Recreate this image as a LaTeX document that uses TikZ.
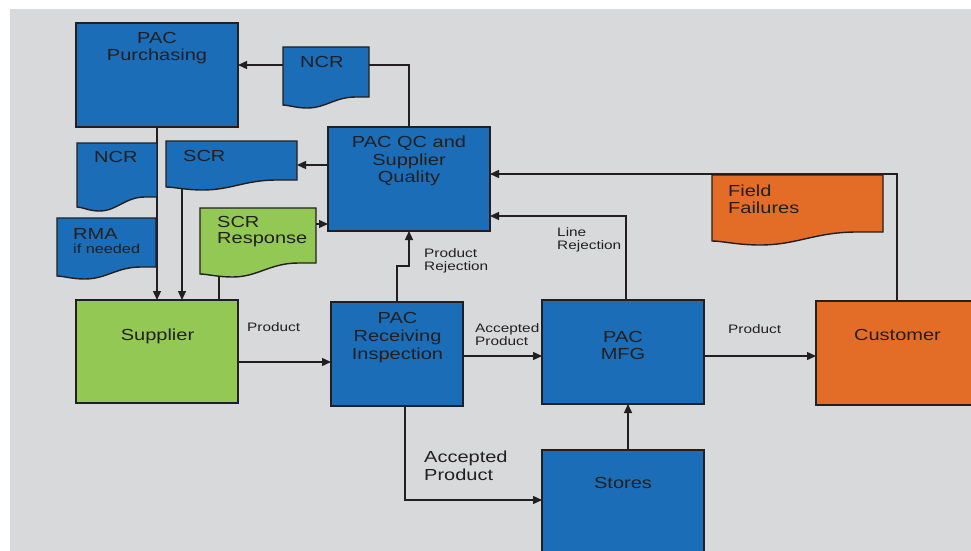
\documentclass[tikz,border=0pt]{standalone}
\usepackage{fontspec}
\setmainfont[FakeStretch=1.25]{Liberation Sans}
\usetikzlibrary{arrows.meta}
\definecolor{bgc}{RGB}{216,217,219}
\definecolor{bluec}{RGB}{26,109,182}
\definecolor{greenc}{RGB}{146,200,83}
\definecolor{orangec}{RGB}{227,108,38}
\definecolor{linec}{RGB}{35,31,32}
\pgfdeclarelayer{bglayer}
\pgfdeclarelayer{connlayer}
\pgfsetlayers{bglayer,connlayer,main}
\newcommand\docshape[8]{%
  \pgfmathsetmacro\mydocw{#4-#3}%
  \pgfmathsetmacro\mydoch{#6-#5}%
  \path[docline, fill=#2] (#3,#5) -- (#4,#5) -- (#4,#6) -- ({#3+0.85*\mydocw},#6)
    .. controls ({#3+0.6*\mydocw},#6) and ({#3+0.5*\mydocw},#8) .. ({#3+0.28*\mydocw},#8)
    .. controls ({#3+0.15*\mydocw},#8) and ({#3+0.06*\mydocw},#7) .. (#3,#7) -- cycle;
  \node[anchor=north west, inner sep=0pt, outer sep=0pt, minimum width=\mydocw pt, minimum height=\mydoch pt] (#1) at (#3,#5) {};
}
\tikzset{
  box/.style={draw=linec, line width=1.4pt, inner sep=0pt, outer sep=0pt, anchor=north west},
  docline/.style={draw=linec, line width=1.4pt},
  conn/.style={draw=linec, line width=1.4pt},
  arr/.style={conn, -{Triangle[length=9pt,width=8pt]}},
  bigtxt/.style={inner sep=0pt, text=linec, font=\fontsize{16}{17.5}\selectfont, align=center, anchor=north},
  doctxt/.style={inner sep=0pt, text=linec, font=\fontsize{16}{16.5}\selectfont, align=left, anchor=north west},
  smalltxt/.style={inner sep=0pt, text=linec, font=\fontsize{12.3}{13.6}\selectfont, align=left, anchor=north west},
}
\begin{document}
\begin{tikzpicture}[x=1pt,y=-1pt]
\useasboundingbox (0,0) rectangle (971,551);
\clip (0,0) rectangle (971,551);
\begin{pgfonlayer}{bglayer}
  \fill[bgc] (10,9) rectangle (971,551);
\end{pgfonlayer}

% boxes
\node[box, fill=bluec, minimum width=162pt, minimum height=104pt] (pur) at (76,23) {};
\node[box, fill=bluec, minimum width=162pt, minimum height=104pt] (qc) at (328,127) {};
\node[box, fill=greenc, minimum width=162pt, minimum height=103pt] (sup) at (76,300) {};
\node[box, fill=bluec, minimum width=132pt, minimum height=104pt] (rec) at (331,302) {};
\node[box, fill=bluec, minimum width=162pt, minimum height=104pt] (mfg) at (542,300) {};
\node[box, fill=orangec, minimum width=162pt, minimum height=104pt] (cus) at (816,301) {};
\node[box, fill=bluec, minimum width=162pt, minimum height=120pt] (sto) at (542,450) {};

% documents
\docshape{ncra}{bluec}{283}{369}{47}{97}{105}{108}
\docshape{ncrb}{bluec}{77}{157}{143}{197}{207}{211}
\docshape{scr}{bluec}{166}{297}{141}{180}{187}{190}
\docshape{rma}{bluec}{57}{156}{218}{267}{276}{279}
\docshape{scresp}{greenc}{200}{316}{208}{263}{274}{277}
\docshape{ff}{orangec}{712}{883}{175}{232}{241}{245}

% connectors
\begin{pgfonlayer}{connlayer}
  \draw[conn] (qc.north) |- (ncra.east |- 0,65);
  \draw[arr] (ncra.west |- 0,65) -- (pur.east |- 0,65);
  \draw[arr] (pur.south) -- (sup.north);
  \draw[arr] (qc.west |- 0,165) -- (scr.east |- 0,165);
  \draw[arr] (scr.south -| 182,0) -- (sup.north -| 182,0);
  \draw[conn] (sup.north -| 204,0) -| (scresp.south -| 219,0);
  \draw[arr] (scresp.east |- 0,224) -- (qc.west |- 0,224);
  \draw[arr] (rec.north) -- (rec.north |- 0,266) -| (qc.south);
  \draw[arr] (sup.east |- 0,362) -- (rec.west |- 0,362);
  \draw[arr] (rec.east |- 0,356) -- (mfg.west |- 0,356);
  \draw[arr] (rec.south -| 405,0) |- (sto.west |- 0,500);
  \draw[arr] (sto.north -| 628,0) -- (mfg.south -| 628,0);
  \draw[arr] (mfg.north -| 626,0) |- (qc.east |- 0,216);
  \draw[arr] (mfg.east |- 0,356) -- (cus.west |- 0,356);
  \draw[arr] (cus.north) |- (qc.east |- 0,174);
\end{pgfonlayer}

% box texts
\node[bigtxt] (purT) at (157,32) {PAC\\Purchasing};
\node[bigtxt] (qcT) at (409,136) {PAC QC and\\Supplier\\Quality};
\node[bigtxt] (supT) at (157.5,329) {Supplier};
\node[bigtxt, font=\fontsize{16}{18}\selectfont] (recT) at (397.5,312) {PAC\\Receiving\\Inspection};
\node[bigtxt] (mfgT) at (623,331) {PAC\\MFG};
\node[bigtxt] (cusT) at (897.5,329) {Customer};
\node[bigtxt] (stoT) at (623,477) {Stores};

% document texts
\node[doctxt] (ncraT) at (300,56) {NCR};
\node[doctxt] (ncrbT) at (94,151) {NCR};
\node[doctxt] (scrT) at (183,150) {SCR};
\node[doctxt] (rmaT) at (73,228) {RMA};
\node[doctxt, font=\fontsize{13}{15}\selectfont] (ifT) at (73,244) {if needed};
\node[doctxt] (screspT) at (217,216) {SCR\\Response};
\node[doctxt] (ffT) at (728,185) {Field\\Failures};

% connector labels
\node[smalltxt] (lab1) at (247,322) {Product};
\node[smalltxt] (lab2) at (424,248) {Product\\Rejection};
\node[smalltxt] (lab3) at (557,227) {Line\\Rejection};
\node[smalltxt] (lab4) at (475,323) {Accepted\\Product};
\node[smalltxt] (lab5) at (728,324) {Product};
\node[doctxt, font=\fontsize{16}{17.3}\selectfont] (lab6) at (424,451) {Accepted\\Product};
\end{tikzpicture}
\end{document}
